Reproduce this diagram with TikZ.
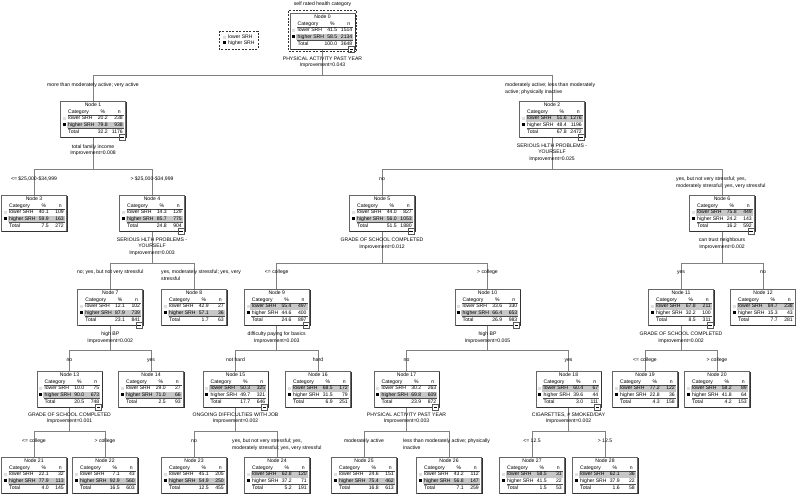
\documentclass[tikz,border=0pt]{standalone}
\usepackage{fontspec}
\setmainfont{Liberation Sans}
\begin{document}
\begin{tikzpicture}[x=1pt,y=-1pt,
  txt/.style={inner sep=0pt, text height=3.6pt, text depth=1pt, font=\fontsize{5.1}{6}\selectfont},
  box/.style={draw=black!60, line width=0.6pt, minimum width=65pt, minimum height=36pt, inner sep=0pt, anchor=north, fill=white},
  conn/.style={draw=black!50, line width=0.8pt},
  rule/.style={draw=black!70, line width=0.4pt},
  hlband/.style={fill=black!22},
  lowsq/.style={fill=black!12},
  shadowline/.style={draw=black!80, line width=0.5pt}]
\useasboundingbox (0,0) rectangle (796,494);
\fill[white] (0,0) rectangle (796,494);

% ---------- nodes ----------
\foreach \nm/\xx/\yy/\pA/\nA/\pB/\nB/\pT/\nT/\hl/\ic in {
0/322.5/13/41.5/1514/58.5/2134/100.0/3648/1/1,
1/93/101/20.2/238/79.8/938/32.2/1176/1/1,
2/552/101/51.6/1276/48.4/1196/67.8/2472/0/1,
3/34/195/40.1/109/59.9/163/7.5/272/1/0,
4/152/195/14.3/129/85.7/775/24.8/904/1/1,
5/382/195/44.0/827/56.0/1053/51.5/1880/1/1,
6/722/195/75.8/449/24.2/143/16.2/592/0/1,
7/110.25/289/12.1/102/87.9/739/23.1/841/1/1,
8/194/289/42.9/27/57.1/36/1.7/63/1/0,
9/276.75/289/55.4/497/44.6/400/24.6/897/0/1,
10/487.5/289/33.6/330/66.4/653/26.9/983/1/1,
11/681/289/67.8/211/32.2/100/8.5/311/0/1,
12/763/289/84.7/238/15.3/43/7.7/281/0/0,
13/69.5/371/10.0/75/90.0/673/20.5/748/1/1,
14/151/371/29.0/27/71.0/66/2.5/93/1/0,
15/235.5/371/50.3/325/49.7/321/17.7/646/0/1,
16/318/371/68.5/172/31.5/79/6.9/251/0/0,
17/406.5/371/30.2/263/69.8/609/23.9/872/1/1,
18/568.5/371/60.4/67/39.6/44/3.0/111/0/1,
19/645/371/77.2/122/22.8/36/4.3/158/0/0,
20/717/371/58.2/89/41.8/64/4.2/153/0/0,
21/34/457/22.1/32/77.9/113/4.0/145/1/0,
22/105/457/7.1/43/92.9/560/16.5/603/1/0,
23/194/457/45.1/205/54.9/250/12.5/455/1/0,
24/277/457/62.8/120/37.2/71/5.2/191/0/0,
25/364/457/24.6/151/75.4/462/16.8/613/1/0,
26/449/457/43.2/112/56.8/147/7.1/259/1/0,
27/532/457/58.5/31/41.5/22/1.5/53/0/0,
28/605/457/62.1/36/37.9/22/1.6/58/0/0}{
  \pgfmathsetmacro\lx{\xx-32.5}
  \ifnum\hl=1 \def\hy{24}\else\def\hy{17.5}\fi
  \node[box] (n\nm) at (\xx,\yy) {};
  \draw[shadowline] ({\lx+65.6},{\yy+0.8}) -- ({\lx+65.6},{\yy+36.6}) -- ({\lx+0.8},{\yy+36.6});
  \fill[hlband] ({\lx+6},{\yy+\hy-3.1}) rectangle ({\lx+63.3},{\yy+\hy+3.1});
  \node[txt] (n\nm t) at (\xx,{\yy+4}) {Node \nm};
  \node[txt,anchor=west] (n\nm c) at ({\lx+7.5},{\yy+10.8}) {Category};
  \node[txt] (n\nm p) at ({\lx+42.5},{\yy+10.8}) {\%};
  \node[txt,anchor=east] (n\nm n) at ({\lx+60.5},{\yy+10.8}) {n};
  \draw[rule] ({\lx+7},{\yy+14.3}) -- ({\lx+63.3},{\yy+14.3});
  \fill[lowsq] ({\lx+2.3},{\yy+16}) rectangle ({\lx+5.3},{\yy+19});
  \node[txt,anchor=west] (n\nm la) at ({\lx+7.5},{\yy+17.5}) {lower SRH};
  \node[txt,anchor=east] (n\nm lb) at ({\lx+47.5},{\yy+17.5}) {\pA};
  \node[txt,anchor=east] (n\nm lc) at ({\lx+62.5},{\yy+17.5}) {\nA};
  \fill[black] ({\lx+2.3},{\yy+22.5}) rectangle ({\lx+5.3},{\yy+25.5});
  \node[txt,anchor=west] (n\nm ha) at ({\lx+7.5},{\yy+24}) {higher SRH};
  \node[txt,anchor=east] (n\nm hb) at ({\lx+47.5},{\yy+24}) {\pB};
  \node[txt,anchor=east] (n\nm hc) at ({\lx+62.5},{\yy+24}) {\nB};
  \draw[rule] ({\lx+7},{\yy+27.6}) -- ({\lx+63.3},{\yy+27.6});
  \node[txt,anchor=west] (n\nm ta) at ({\lx+7.5},{\yy+31}) {Total};
  \node[txt,anchor=east] (n\nm tb) at ({\lx+47.5},{\yy+31}) {\pT};
  \node[txt,anchor=east] (n\nm tc) at ({\lx+62.5},{\yy+31}) {\nT};
  \ifnum\ic=1
    \draw[draw=black!65, fill=white, line width=0.5pt] ({\lx+58.5},{\yy+33.5}) rectangle ({\lx+64.5},{\yy+39.5});
    \draw[black, line width=0.5pt] ({\lx+59.7},{\yy+36.5}) -- ({\lx+63.3},{\yy+36.5});
  \fi
}

% root selection outline
\draw[black!80, line width=0.9pt, dash pattern=on 2pt off 1.4pt] (288.5,10.8) rectangle (356.5,51.2);

% legend
\draw[black!80, line width=0.8pt, dash pattern=on 2pt off 1.4pt] (219,31) rectangle (258,49);
\fill[lowsq] (222.5,35.8) rectangle (225.5,38.8);
\node[txt,anchor=west] (legA) at (228,37.3) {lower SRH};
\fill[black] (222.5,41.5) rectangle (225.5,44.5);
\node[txt,anchor=west] (legB) at (228,43) {higher SRH};

% title
\node[txt] (title) at (322.5,4.5) {self rated health category};

% ---------- connectors ----------
\newcommand\treeconn[3]{\draw[conn] (n#1.south) -- (n#1.south |- 0,#3) -| (n#2.north);}
\treeconn{0}{1}{75}\treeconn{0}{2}{75}
\treeconn{1}{3}{169}\treeconn{1}{4}{169}
\treeconn{2}{5}{169}\treeconn{2}{6}{169}
\treeconn{4}{7}{263}\treeconn{4}{8}{263}
\treeconn{5}{9}{263}\treeconn{5}{10}{263}
\treeconn{6}{11}{263}\treeconn{6}{12}{263}
\treeconn{7}{13}{350}\treeconn{7}{14}{350}
\treeconn{9}{15}{350}\treeconn{9}{16}{350}
\treeconn{10}{17}{350}\treeconn{10}{18}{350}
\treeconn{11}{19}{350}\treeconn{11}{20}{350}
\treeconn{13}{21}{431}\treeconn{13}{22}{431}
\treeconn{15}{23}{431}\treeconn{15}{24}{431}
\treeconn{17}{25}{431}\treeconn{17}{26}{431}
\treeconn{18}{27}{431}\treeconn{18}{28}{431}

% ---------- split labels ----------
\node[txt] (s0a) at (322.5,59) {PHYSICAL ACTIVITY PAST YEAR};
\node[txt] (s0b) at (322.5,65.5) {Improvement=0.043};
\node[txt] (s1a) at (93,147) {total family income};
\node[txt] (s1b) at (93,153.5) {Improvement=0.008};
\node[txt] (s2a) at (552,146) {SERIOUS HLTH PROBLEMS -};
\node[txt] (s2b) at (552,152.5) {YOURSELF};
\node[txt] (s2c) at (552,159) {Improvement=0.025};
\node[txt] (s4a) at (152,240) {SERIOUS HLTH PROBLEMS -};
\node[txt] (s4b) at (152,246.5) {YOURSELF};
\node[txt] (s4c) at (152,253) {Improvement=0.003};
\node[txt] (s5a) at (382,240) {GRADE OF SCHOOL COMPLETED};
\node[txt] (s5b) at (382,247) {Improvement=0.012};
\node[txt] (s6a) at (722,240) {can trust neighbours};
\node[txt] (s6b) at (722,247) {Improvement=0.002};
\node[txt] (s7a) at (110.25,334) {high BP};
\node[txt] (s7b) at (110.25,341) {Improvement=0.002};
\node[txt] (s9a) at (276.75,334) {difficulty paying for basics};
\node[txt] (s9b) at (276.75,341) {Improvement=0.003};
\node[txt] (s10a) at (487.5,334) {high BP};
\node[txt] (s10b) at (487.5,341) {Improvement=0.005};
\node[txt] (s11a) at (681,334) {GRADE OF SCHOOL COMPLETED};
\node[txt] (s11b) at (681,341) {Improvement=0.002};
\node[txt] (s13a) at (69.5,415) {GRADE OF SCHOOL COMPLETED};
\node[txt] (s13b) at (69.5,421.5) {Improvement=0.001};
\node[txt] (s15a) at (235.5,415) {ONGOING DIFFICULTIES WITH JOB};
\node[txt] (s15b) at (235.5,421.5) {Improvement=0.002};
\node[txt] (s17a) at (406.5,415) {PHYSICAL ACTIVITY PAST YEAR};
\node[txt] (s17b) at (406.5,421.5) {Improvement=0.003};
\node[txt] (s18a) at (568.5,415) {CIGARETTES, \# SMOKED/DAY};
\node[txt] (s18b) at (568.5,421.5) {Improvement=0.002};

% ---------- branch labels ----------
\node[txt] (b1) at (93,85) {more than moderately active; very active};
\node[txt,anchor=west] (b2a) at (505,85) {moderately active; less than moderately};
\node[txt,anchor=west] (b2b) at (505,92) {active; physically inactive};
\node[txt] (b3) at (34,179) {<= \$25,000-\$34,999};
\node[txt] (b4) at (152,179) {> \$25,000-\$34,999};
\node[txt] (b5) at (382,179) {no};
\node[txt,anchor=west] (b6a) at (676,179) {yes, but not very stressful; yes,};
\node[txt,anchor=west] (b6b) at (676,186) {moderately stressful; yes, very stressful};
\node[txt] (b7) at (110.25,272) {no; yes, but not very stressful};
\node[txt,anchor=west] (b8a) at (161,272) {yes, moderately stressful; yes, very};
\node[txt,anchor=west] (b8b) at (161,279) {stressful};
\node[txt] (b9) at (276.75,272) {<= college};
\node[txt] (b10) at (487.5,272) {> college};
\node[txt] (b11) at (681,272) {yes};
\node[txt] (b12) at (763,272) {no};
\node[txt] (b13) at (69.5,360) {no};
\node[txt] (b14) at (151,360) {yes};
\node[txt] (b15) at (235.5,360) {not hard};
\node[txt] (b16) at (318,360) {hard};
\node[txt] (b17) at (406.5,360) {no};
\node[txt] (b18) at (568.5,360) {yes};
\node[txt] (b19) at (645,360) {<= college};
\node[txt] (b20) at (717,360) {> college};
\node[txt] (b21) at (34,441) {<= college};
\node[txt] (b22) at (105,441) {> college};
\node[txt] (b23) at (194,441) {no};
\node[txt,anchor=west] (b24a) at (232,441) {yes, but not very stressful; yes,};
\node[txt,anchor=west] (b24b) at (232,448) {moderately stressful; yes, very stressful};
\node[txt] (b25) at (364,441) {moderately active};
\node[txt,anchor=west] (b26a) at (403,441) {less than moderately active; physically};
\node[txt,anchor=west] (b26b) at (403,448) {inactive};
\node[txt] (b27) at (532,441) {<= 12.5};
\node[txt] (b28) at (605,441) {> 12.5};
\end{tikzpicture}
\end{document}
